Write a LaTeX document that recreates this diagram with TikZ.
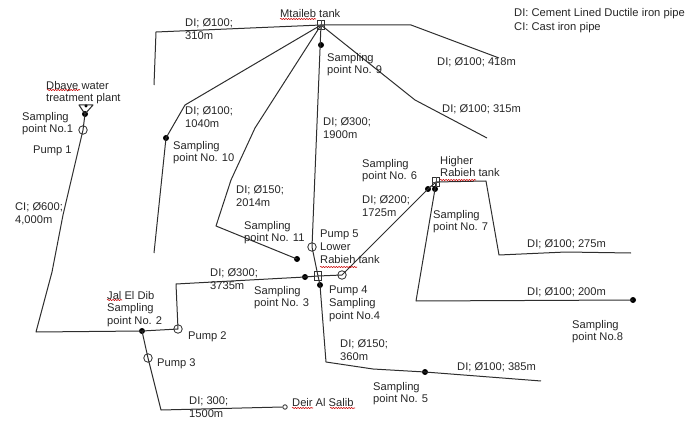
\documentclass[tikz,border=0pt]{standalone}
\usepackage{fontspec}
\setmainfont{Liberation Sans}
\usetikzlibrary{decorations.pathmorphing}
\tikzset{
 pipe/.style={draw=black!82,line width=1pt,line join=round},
 lab/.style={anchor=north west,inner sep=0pt,align=left,yshift=-0.8pt,text=black!85,font=\fontsize{11.15}{12.8}\selectfont},
 sampledot/.style={circle,fill=black,inner sep=0pt,minimum size=6pt},
 pumpsym/.style={circle,draw=black!80,line width=0.85pt,inner sep=0pt,minimum size=8.5pt},
 endsym/.style={circle,draw=black!80,line width=0.85pt,inner sep=0pt,minimum size=4.5pt},
 tanksym/.style={rectangle,draw=black!80,line width=0.85pt,inner sep=0pt,minimum width=7.5pt,minimum height=8.5pt},
 squig/.style={draw=red!80!black,line width=0.55pt,decorate,decoration={snake,amplitude=0.6pt,segment length=2.6pt}}
}
\begin{document}
\begin{tikzpicture}[x=1pt,y=-1pt]
\useasboundingbox (0,0) rectangle (686,425);
% junction nodes
\node[tanksym] (mt) at (321,25) {};
\node[tanksym] (lr) at (318,276) {};
\node[tanksym] (hr) at (436,182) {};
\node[pumpsym] (p1) at (83,130) {};
\node[pumpsym] (p2) at (178,329) {};
\node[pumpsym] (p3) at (148,358) {};
\node[pumpsym] (p4) at (342,275) {};
\node[pumpsym] (p5) at (312,247) {};
\node[sampledot] (s1) at (85,114) {};
\node[sampledot,minimum size=3.5pt] (s1b) at (86,106) {};
\node[sampledot] (s2) at (142,331) {};
\node[sampledot] (s3) at (305,277) {};
\node[sampledot] (s4) at (320,285) {};
\node[sampledot] (s5) at (425,372) {};
\node[sampledot] (s6) at (428,189) {};
\node[sampledot] (s7) at (435,189) {};
\node[sampledot] (s8) at (633,300) {};
\node[sampledot] (s9) at (321,45) {};
\node[sampledot] (s10) at (166,138) {};
\node[sampledot] (s11) at (297,259) {};
\node[endsym] (ds) at (285,407) {};
% bends and free ends
\coordinate (a1) at (63,215);
\coordinate (a2) at (52,272);
\coordinate (a3) at (36,332);
\coordinate (b1) at (176,284);
\coordinate (c1) at (161,410);
\coordinate (d1) at (156,32);
\coordinate (d2) at (154,85);
\coordinate (e1) at (411,25);
\coordinate (e2) at (499,58);
\coordinate (f1) at (415,100);
\coordinate (f2) at (487,138);
\coordinate (g1) at (185,105);
\coordinate (g2) at (154,253);
\coordinate (h1) at (255,128);
\coordinate (h2) at (231,180);
\coordinate (h3) at (216,226);
\coordinate (i1) at (326,362);
\coordinate (i2) at (373,369);
\coordinate (i3) at (541,381);
\coordinate (j1) at (486,181);
\coordinate (j2) at (499,255);
\coordinate (j3) at (566,252);
\coordinate (j4) at (631,253);
\coordinate (k1) at (416,301);
\coordinate (t1) at (79,105);
\coordinate (t2) at (93,105);
% pipes
\draw[pipe] (s1.center) -- (p1.center) -- (a1) -- (a2) -- (a3) -- (s2.center) -- (p2.center) -- (b1) -- (s3.center) -- (lr.center) -- (p4.center) -- (s6.center);
\draw[pipe] (s2.center) -- (p3.center) -- (c1) -- (ds.west);
\draw[pipe] (d2) -- (d1) -- (mt.center) -- (e1) -- (e2);
\draw[pipe] (mt.center) -- (f1) -- (f2);
\draw[pipe] (mt.center) -- (g1) -- (s10.center) -- (g2);
\draw[pipe] (mt.center) -- (h1) -- (h2) -- (h3) -- (s11.center);
\draw[pipe] (mt.center) -- (p5.center) -- (lr.center) -- (s4.center) -- (i1) -- (i2) -- (s5.center) -- (i3);
\draw[pipe] (s6.center) -- (hr.center) -- (j1) -- (j2) -- (j3) -- (j4);
\draw[pipe] (hr.center) -- (s7.center) -- (k1) -- (s8.center);
% tank symbols, inner marks
\draw[pipe] (t1) -- (s1.center) -- (t2) -- cycle;
\draw[black!70,line width=0.6pt] (mt.north) -- (mt.south) (mt.west) -- (mt.east);
\draw[black!70,line width=0.6pt] (hr.north) -- (hr.south) (hr.west) -- (hr.east);
% labels
\node[lab] (l1) at (46,80) {Dbaye water\\treatment plant};
\node[lab] (l2) at (22,111) {Sampling\\point No.1};
\node[lab] (l3) at (33,145) {Pump 1};
\node[lab] (l4) at (15,202) {CI; Ø600;\\4,000m};
\node[lab] (l5) at (185,18) {DI; Ø100;\\310m};
\node[lab] (l6) at (280,8) {Mtaileb tank};
\node[lab] (l7) at (327,52) {Sampling\\point No. 9};
\node[lab] (l8) at (437,57) {DI; Ø100; 418m};
\node[lab] (l9) at (442,104) {DI; Ø100; 315m};
\node[lab] (l10) at (185,106) {DI; Ø100;\\1040m};
\node[lab] (l11) at (173,140) {Sampling\\point No. 10};
\node[lab] (l12) at (323,117) {DI; Ø300;\\1900m};
\node[lab] (l13) at (362,158) {Sampling\\point No. 6};
\node[lab] (l14) at (440,155) {Higher\\Rabieh tank};
\node[lab] (l15) at (362,195) {DI; Ø200;\\1725m};
\node[lab] (l16) at (433,209) {Sampling\\point No. 7};
\node[lab] (l17) at (236,185) {DI; Ø150;\\2014m};
\node[lab] (l18) at (244,220) {Sampling\\point No. 11};
\node[lab] (l19) at (320,229) {Pump 5\\Lower\\Rabieh tank};
\node[lab] (l20) at (527,239) {DI; Ø100; 275m};
\node[lab] (l21) at (527,287) {DI; Ø100; 200m};
\node[lab] (l22) at (572,319) {Sampling\\point No.8};
\node[lab] (l23) at (210,268) {DI; Ø300;\\3735m};
\node[lab] (l24) at (254,285) {Sampling\\point No. 3};
\node[lab] (l25) at (329,285) {Pump 4\\Sampling\\point No.4};
\node[lab] (l26) at (107,290) {Jal El Dib\\Sampling\\point No. 2};
\node[lab] (l27) at (188,331) {Pump 2};
\node[lab] (l28) at (157,358) {Pump 3};
\node[lab] (l29) at (340,339) {DI; Ø150;\\360m};
\node[lab] (l30) at (457,362) {DI; Ø100; 385m};
\node[lab] (l31) at (373,381) {Sampling\\point No. 5};
\node[lab] (l32) at (189,396) {DI; 300;\\1500m};
\node[lab] (l33) at (292,397) {Deir Al Salib};
\node[lab,font=\fontsize{11.2}{14}\selectfont] (l34) at (514,7) {DI: Cement Lined Ductile iron pipe\\CI: Cast iron pipe};
% spell-check underlines
\draw[squig] (47,90) -- (80,90);
\draw[squig] (280,19) -- (316,19);
\draw[squig] (440,180) -- (476,180);
\draw[squig] (320,267) -- (357,267);
\draw[squig] (107,300) -- (122,300);
\draw[squig] (292,408) -- (313,408);
\draw[squig] (330,408) -- (355,408);
\end{tikzpicture}
\end{document}
